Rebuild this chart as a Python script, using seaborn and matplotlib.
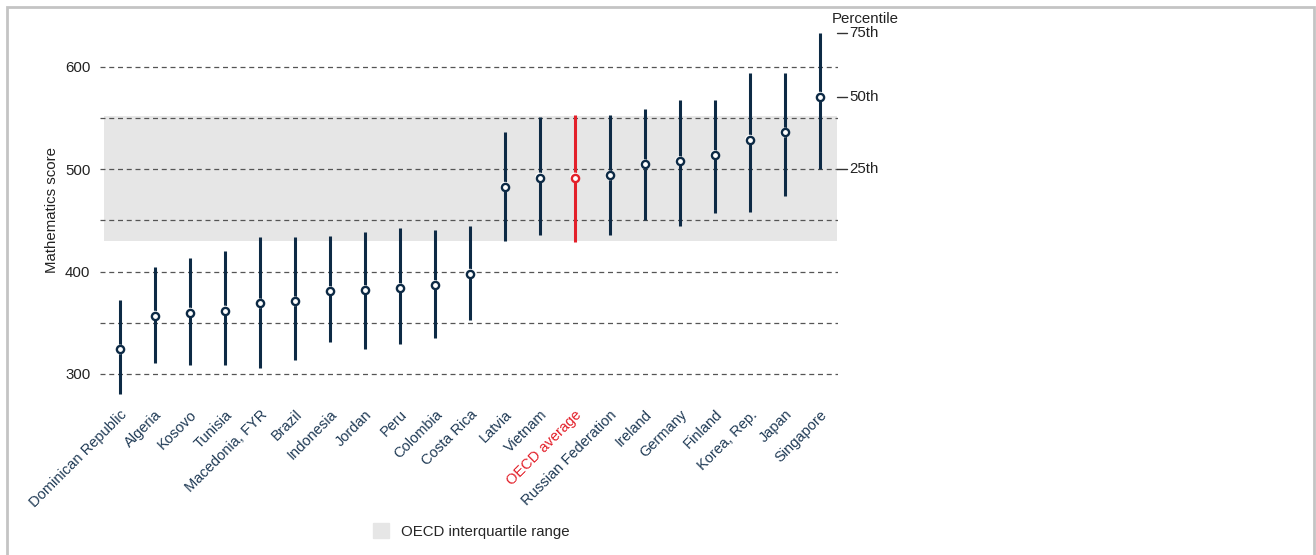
import matplotlib
matplotlib.use("Agg")
import matplotlib.pyplot as plt
import matplotlib.patches as mpatches
import seaborn as sns
import pandas as pd
import numpy as np

# PISA mathematics scores: 25th, 50th and 75th percentiles
countries = ["Dominican Republic", "Algeria", "Kosovo", "Tunisia", "Macedonia, FYR",
             "Brazil", "Indonesia", "Jordan", "Peru", "Colombia", "Costa Rica",
             "Latvia", "Vietnam", "OECD average", "Russian Federation", "Ireland",
             "Germany", "Finland", "Korea, Rep.", "Japan", "Singapore"]
p25 = [280, 311, 309, 309, 306, 314, 331, 324, 329, 335, 353,
       430, 436, 429, 436, 450, 445, 457, 458, 474, 500]
p50 = [324, 357, 360, 362, 369, 371, 381, 382, 384, 387, 398,
       483, 492, 492, 494, 505, 508, 514, 529, 536, 571]
p75 = [372, 405, 413, 420, 434, 434, 435, 439, 443, 441, 445,
       536, 551, 553, 553, 559, 568, 568, 594, 594, 633]

oecd_iqr = (430, 552)
yticks = [300, 400, 500, 600]
gridlines = [300, 350, 400, 450, 500, 550, 600]

navy = "#0d2a45"
red = "#e3202a"
band_grey = "#e6e6e6"

df = pd.DataFrame({"country": countries, "p25": p25, "p50": p50, "p75": p75})
df["is_oecd"] = df["country"] == "OECD average"

sns.set_theme(style="white")
plt.rcParams["font.family"] = ["Liberation Sans", "DejaVu Sans"]

W, H = 1316, 555
fig = plt.figure(figsize=(W / 100, H / 100), dpi=100)
ax_top, ax_bot = 15.8, 404.7
ax = fig.add_axes([100 / W, 1 - ax_bot / H, (838 - 100) / W, (ax_bot - ax_top) / H])

n = len(df)
x = np.arange(n)
ax.set_xlim(-0.57, n - 1 + 0.52)
ax.set_ylim(270, 650)

# OECD interquartile band
ax.fill_between([-0.46, n - 1 + 0.49], oecd_iqr[0], oecd_iqr[1], color=band_grey, zorder=0, lw=0)

for g in gridlines:
    ax.axhline(g, color="#555555", lw=0.9, ls=(0, (4, 3)), zorder=1)

colors = [red if o else navy for o in df["is_oecd"]]
ax.vlines(x, df["p25"], df["p75"], colors=colors, lw=2.2, zorder=3)

sns.scatterplot(data=df, x=x, y="p50", hue="is_oecd", palette={False: navy, True: red},
                ax=ax, s=30, facecolor="white", linewidth=1.6, zorder=4, legend=False)
for xi, yi, c in zip(x, df["p50"], colors):
    ax.plot(xi, yi, "o", ms=5.2, mfc="white", mec=c, mew=1.7, zorder=5)

ax.set_xticks(x)
ax.set_xticklabels(countries, rotation=45, ha="right", rotation_mode="anchor", fontsize=10.5)
for lbl, c in zip(ax.get_xticklabels(), colors):
    lbl.set_color(red if c == red else "#1f3a55")
ax.tick_params(axis="x", length=0, pad=2)
ax.set_yticks(yticks)
ax.tick_params(axis="y", length=0, pad=7, labelsize=10.8, labelcolor="#222222")
ax.set_ylabel("Mathematics score", fontsize=10.8, color="#222222", labelpad=4)
ax.set_xlabel("")
for s in ax.spines.values():
    s.set_visible(False)
ax.set_facecolor("none")

# percentile key beside the last country
last = n - 1
for val, txt in zip([p75[last], p50[last], p25[last]], ["75th", "50th", "25th"]):
    ax.plot([last + 0.5, last + 0.78], [val, val], color="#333333", lw=1.0, clip_on=False)
    ax.text(last + 0.83, val, txt, va="center", ha="left", fontsize=10.8, color="#222222", clip_on=False)
ax.text(last + 0.33, 647, "Percentile", va="center", ha="left", fontsize=10.8, color="#222222", clip_on=False)

# legend
handle = mpatches.Patch(color=band_grey, label="OECD interquartile range")
fig.legend(handles=[handle], loc="center left", bbox_to_anchor=(359 / W, 1 - 531 / H),
           frameon=False, fontsize=10.8, handlelength=1.1, handleheight=1.1, handletextpad=0.8)

# outer frame
frame = mpatches.Rectangle((7 / W, -0.05), (1314 - 7) / W, 1.05 - 7 / H,
                           transform=fig.transFigure, fill=False, ec="#c4c4c4", lw=2)
fig.patches.append(frame)

fig.savefig("out.png", dpi=100)
